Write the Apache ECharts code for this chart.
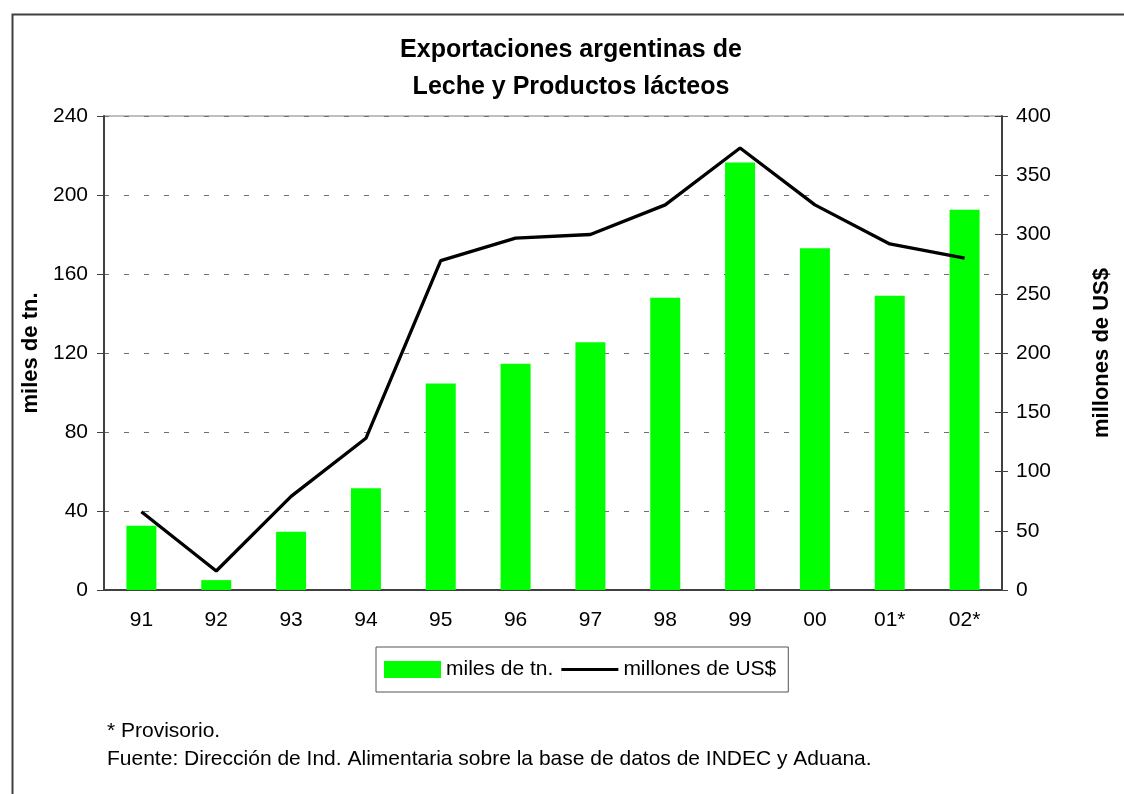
<!DOCTYPE html>
<html>
<head>
<meta charset="utf-8">
<script src="https://cdn.jsdelivr.net/npm/echarts@6/dist/echarts.min.js"></script>
<style>
  html, body { margin: 0; padding: 0; background: #fff; }
  #chart { width: 1124px; height: 794px; }
</style>
</head>
<body>
<div id="chart"></div>
<script>
const years = ['91', '92', '93', '94', '95', '96', '97', '98', '99', '00', '01*', '02*']
const tons = [32.5, 5, 29.5, 51.5, 104.5, 114.5, 125.5, 148, 216.5, 173, 149, 192.5]
const usd = [66, 16, 79, 128, 278, 297, 300, 325, 373, 325, 292, 280]

const font = '"Liberation Sans", Arial, sans-serif'
const chart = echarts.init(document.getElementById('chart'))

chart.setOption({
  backgroundColor: '#fff',
  animation: false,
  textStyle: { fontFamily: font },
  title: {
    text: 'Exportaciones argentinas de\nLeche y Productos lácteos',
    left: 566,
    textAlign: 'center',
    top: 27,
    textStyle: { fontSize: 25, fontWeight: 'bold', color: '#000', lineHeight: 37, fontFamily: font }
  },
  grid: {
    left: 104, right: 122, top: 116, bottom: 204,
    show: true, borderColor: '#808080', borderWidth: 1
  },
  legend: {
    left: 376, top: 647,
    padding: [12, 12, 12, 8],
    itemGap: 8,
    itemWidth: 57, itemHeight: 17,
    borderColor: '#555', borderWidth: 1,
    textStyle: { fontSize: 21, color: '#000', fontFamily: font },
    data: [
      { name: 'miles de tn.', icon: 'rect' },
      {
        name: 'millones de US$',
        icon: 'path://M0,7L57,7L57,10L0,10Z M0,0L0.05,0L0.05,17L0,17Z',
        itemStyle: { color: '#000' }
      }
    ]
  },
  xAxis: {
    type: 'category',
    data: years,
    axisLine: { lineStyle: { color: '#404040', width: 2 } },
    axisTick: { length: 6, lineStyle: { color: '#404040' } },
    axisLabel: { fontSize: 21, color: '#000', margin: 20 }
  },
  yAxis: [
    {
      type: 'value', min: 0, max: 240, interval: 40,
      name: 'miles de tn.', nameLocation: 'middle', nameGap: 60, nameRotate: 90,
      nameTextStyle: { fontSize: 22, fontWeight: 'bold', color: '#000' },
      axisLine: { show: true, lineStyle: { color: '#404040', width: 2 } },
      axisTick: { show: true, length: 7, lineStyle: { color: '#404040' } },
      axisLabel: { fontSize: 21, color: '#000', margin: 16 },
      splitLine: { lineStyle: { color: '#707070', type: [5, 15] } }
    },
    {
      type: 'value', min: 0, max: 400, interval: 50, position: 'right',
      name: 'millones de US$', nameLocation: 'middle', nameGap: 89, nameRotate: 90,
      nameTextStyle: { fontSize: 22, fontWeight: 'bold', color: '#000' },
      axisLine: { show: true, lineStyle: { color: '#404040', width: 2 } },
      axisTick: { show: true, length: 6, lineStyle: { color: '#404040' } },
      axisLabel: { fontSize: 21, color: '#000', margin: 14 },
      splitLine: { show: false }
    },
    {
      type: 'value', min: 0, max: 400, interval: 50, position: 'right',
      axisLine: { show: false },
      axisTick: { show: true, inside: true, length: 7, lineStyle: { color: '#404040' } },
      axisLabel: { show: false },
      splitLine: { show: false }
    }
  ],
  series: [
    {
      name: 'miles de tn.',
      type: 'bar',
      data: tons,
      barWidth: 30,
      itemStyle: { color: '#00ff00' }
    },
    {
      name: 'millones de US$',
      type: 'line',
      yAxisIndex: 1,
      data: usd,
      symbol: 'none',
      lineStyle: { color: '#000', width: 3.3 },
      itemStyle: { color: '#000' }
    }
  ],
  graphic: [
    {
      type: 'rect', left: 10, top: 12, silent: true,
      shape: { width: 1300, height: 1000 },
      style: { fill: 'none', stroke: '#404040', lineWidth: 2 }
    },
    {
      type: 'text', left: 107, top: 721,
      style: { text: '* Provisorio.', fontSize: 21, fontFamily: font, fill: '#000' }
    },
    {
      type: 'text', left: 107, top: 749,
      style: { text: 'Fuente: Dirección de Ind. Alimentaria sobre la base de datos de INDEC y Aduana.', fontSize: 21, fontFamily: font, fill: '#000' }
    }
  ]
})
</script>
</body>
</html>
